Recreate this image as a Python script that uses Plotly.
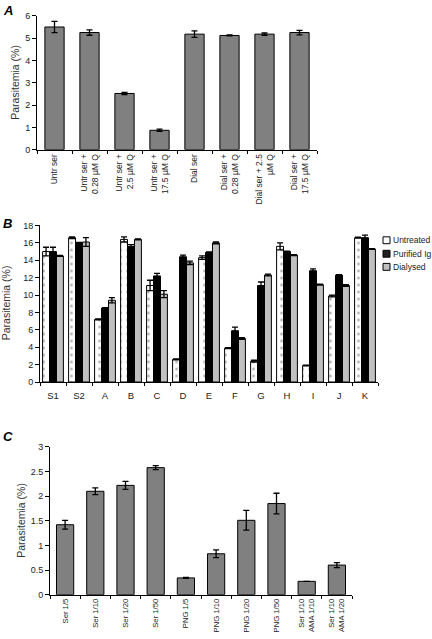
import plotly.graph_objects as go

FONT = "Liberation Sans, Arial, sans-serif"

# ---- Panel A data ----
a_labels = ["Untr ser", "Untr ser +<br>0.28 µM Q", "Untr ser +<br>2.5 µM Q", "Untr ser +<br>17.5 µM Q",
            "Dial ser", "Dial ser +<br>0.28 µM Q", "Dial ser + 2.5<br>µM Q", "Dial ser +<br>17.5 µM Q"]
a_values = [5.5, 5.25, 2.52, 0.87, 5.18, 5.12, 5.18, 5.25]
a_errors = [0.25, 0.12, 0.05, 0.05, 0.15, 0.02, 0.05, 0.1]

# ---- Panel B data ----
b_groups = ["S1", "S2", "A", "B", "C", "D", "E", "F", "G", "H", "I", "J", "K"]
b_series = ["Untreated", "Purified Ig", "Dialysed"]
b_untreated = [15.0, 16.6, 7.2, 16.4, 11.1, 2.6, 14.3, 3.9, 2.4, 15.6, 1.9, 9.9, 16.6]
b_untreated_err = [0.5, 0.1, 0.05, 0.3, 0.6, 0.05, 0.2, 0.05, 0.1, 0.4, 0.05, 0.1, 0.05]
b_purified = [15.0, 16.0, 8.5, 15.6, 12.2, 14.4, 14.9, 5.9, 11.1, 15.0, 12.8, 12.3, 16.6]
b_purified_err = [0.5, 0.05, 0.05, 0.2, 0.3, 0.2, 0.05, 0.4, 0.4, 0.05, 0.2, 0.05, 0.3]
b_dialysed = [14.5, 16.1, 9.4, 16.4, 10.1, 13.7, 16.0, 5.0, 12.3, 14.6, 11.2, 11.1, 15.3]
b_dialysed_err = [0.05, 0.5, 0.3, 0.05, 0.4, 0.2, 0.1, 0.1, 0.1, 0.05, 0.05, 0.1, 0.05]

# ---- Panel C data ----
c_labels = ["Ser 1/5", "Ser 1/10", "Ser 1/20", "Ser 1/50", "PNG 1/5", "PNG 1/10", "PNG 1/20",
            "PNG 1/50", "Ser 1/10<br>AMA 1/10", "Ser 1/10<br>AMA 1/20"]
c_values = [1.42, 2.1, 2.22, 2.58, 0.34, 0.83, 1.51, 1.85, 0.27, 0.6]
c_errors = [0.09, 0.07, 0.08, 0.04, 0.01, 0.08, 0.2, 0.21, 0.0, 0.05]

Y_TITLE = "Parasitemia (%)"

W, H = 432, 639


def px_x(x):
    return x / W


def px_y(y):
    return 1 - y / H


fig = go.Figure()

err = dict(type="data", color="black", thickness=1.3, width=3)
line = dict(color="black", width=1)

fig.add_trace(go.Bar(x=a_labels, y=a_values,
                     error_y=dict(array=a_errors, **err),
                     marker=dict(color="#808080", line=line), width=0.55,
                     xaxis="x", yaxis="y", showlegend=False))

b_colors = ["white", "black", "#c0c0c0"]
b_data = [(b_untreated, b_untreated_err), (b_purified, b_purified_err), (b_dialysed, b_dialysed_err)]
for name, color, (vals, errs) in zip(b_series, b_colors, b_data):
    marker = dict(color=color, line=line)
    if name == "Untreated":
        marker["pattern"] = dict(shape=".", fgcolor="#555555", bgcolor="white", size=7, solidity=0.12)
    fig.add_trace(go.Bar(x=b_groups, y=vals, name=name,
                         error_y=dict(array=errs, **err),
                         marker=marker, xaxis="x2", yaxis="y2", showlegend=False))

fig.add_trace(go.Bar(x=c_labels, y=c_values,
                     error_y=dict(array=c_errors, **err),
                     marker=dict(color="#808080", line=line), width=0.57,
                     xaxis="x3", yaxis="y3", showlegend=False))


def xax(size, angle, standoff=0):
    return dict(showline=True, linecolor="black", linewidth=1, ticks="outside",
                ticklen=3, tickcolor="black", tickson="boundaries", showgrid=False,
                zeroline=False, type="category", tickangle=angle,
                ticklabelstandoff=standoff,
                tickfont=dict(family=FONT, size=size, color="#222"))


def yax():
    return dict(showline=True, linecolor="black", linewidth=1, ticks="outside",
                ticklen=4, tickcolor="black", showgrid=False, zeroline=False,
                tickfont=dict(family=FONT, size=9, color="#222"))


fig.update_layout(
    width=W, height=H, margin=dict(l=0, r=0, t=0, b=0),
    paper_bgcolor="white", plot_bgcolor="white",
    barmode="group", bargap=0.2, bargroupgap=0,
    font=dict(family=FONT, color="#222"),
    showlegend=False,
    xaxis=dict(domain=[px_x(37), px_x(317)], anchor="y", range=[-0.5, 7.5], **xax(8.5, -90)),
    yaxis=dict(domain=[px_y(147), px_y(11)], anchor="x", range=[0, 6], dtick=1, **yax()),
    xaxis2=dict(domain=[px_x(40), px_x(378)], anchor="y2", range=[-0.5, 12.5], **xax(9.5, 0, 5)),
    yaxis2=dict(domain=[px_y(383), px_y(224)], anchor="x2", range=[0, 18], dtick=2, **yax()),
    xaxis3=dict(domain=[px_x(50), px_x(352)], anchor="y3", range=[-0.5, 9.5], **xax(7.7, -90)),
    yaxis3=dict(domain=[px_y(599), px_y(449)], anchor="x3", range=[0, 3], dtick=0.5, **yax()),
)

# y-axis titles
for xc, yc in [(15, 79), (6, 303), (21, 524)]:
    fig.add_annotation(text=Y_TITLE, xref="paper", yref="paper", x=px_x(xc), y=px_y(yc),
                       xanchor="center", yanchor="middle", textangle=-90, showarrow=False,
                       font=dict(family=FONT, size=10.5, color="#333"))

# Legend for panel B (swatches + labels)
legend_rows = [239, 252.7, 266]
for name, color, yc in zip(b_series, b_colors, legend_rows):
    fig.add_shape(type="rect", xref="paper", yref="paper",
                  x0=px_x(383), x1=px_x(390), y0=px_y(yc + 3.5), y1=px_y(yc - 3.5),
                  fillcolor=color if color != "black" else "#222222",
                  line=dict(color="black", width=1))
    fig.add_annotation(text=name, xref="paper", yref="paper", x=px_x(391), y=px_y(yc),
                       xanchor="left", yanchor="middle", showarrow=False,
                       font=dict(family=FONT, size=8.5, color="#222"))

for txt, y in [("A", 6), ("B", 222), ("C", 438)]:
    fig.add_annotation(text=txt, xref="paper", yref="paper", x=px_x(1), y=px_y(y),
                       xanchor="left", yanchor="middle", showarrow=False,
                       font=dict(family=FONT, size=13, color="black", weight="bold", style="italic"))

fig.write_html("out.html", config={"displayModeBar": False},
               post_script="document.body.style.margin='0';document.body.style.overflow='hidden';")
